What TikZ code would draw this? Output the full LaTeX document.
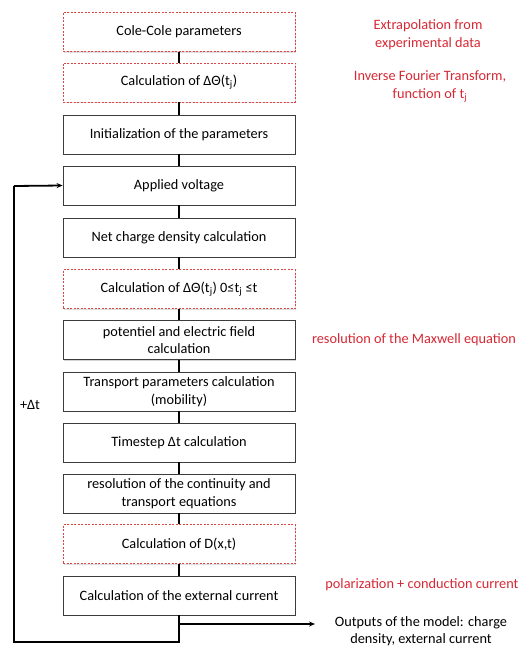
\documentclass[tikz,border=0pt]{standalone}
\usepackage{fontspec}
\setmainfont{Carlito}
\usetikzlibrary{arrows.meta,shadows}
\definecolor{annred}{RGB}{214,40,52}
\definecolor{dashred}{RGB}{220,70,70}
\definecolor{boxgray}{RGB}{60,60,60}
\tikzset{
  every node/.style={font=\fontsize{14.3}{17.5}\selectfont, align=center, inner sep=0pt},
  solidbox/.style={draw=boxgray, line width=0.8pt, fill=white, minimum width=232pt, minimum height=39pt,
    drop shadow={shadow xshift=1.2pt, shadow yshift=-1.2pt, opacity=0.35}},
  dashbox/.style={draw=dashred, line width=0.7pt, dash pattern=on 2pt off 1.5pt, fill=white, minimum width=232pt, minimum height=39pt,
    drop shadow={shadow xshift=1.2pt, shadow yshift=-1.2pt, opacity=0.25}},
  link/.style={line width=2pt, black},
  loop/.style={line width=1.8pt, black},
  note/.style={text=annred},
}
\begin{document}
\begin{tikzpicture}[x=1pt,y=-1pt]
\useasboundingbox (0,0) rectangle (527,647);
\node[dashbox]  (cole)  at (179,32)    {Cole-Cole parameters};
\node[dashbox]  (dth)   at (179,82.5)  {Calculation of ΔΘ(t\textsubscript{j})};
\node[solidbox] (init)  at (179,134.5) {Initialization of the parameters};
\node[solidbox] (volt)  at (179,185.5) {Applied voltage};
\node[solidbox] (net)   at (179,237.5) {Net charge density calculation};
\node[dashbox]  (dth2)  at (179,289)   {Calculation of ΔΘ(t\textsubscript{j}) 0≤t\textsubscript{j} ≤t};
\node[solidbox] (pot)   at (179,340)   {potentiel and electric field\\calculation};
\node[solidbox] (trans) at (179,391.5) {Transport parameters calculation\\(mobility)};
\node[solidbox] (tstep) at (179,442.5) {Timestep Δt calculation};
\node[solidbox] (cont)  at (179,493.5) {resolution of the continuity and\\transport equations};
\node[dashbox]  (dxt)   at (179,544)   {Calculation of D(x,t)};
\node[solidbox] (ext)   at (179,595.5) {Calculation of the external current};

\foreach \a/\b in {cole/dth,dth/init,init/volt,volt/net,net/dth2,dth2/pot,pot/trans,trans/tstep,tstep/cont,cont/dxt,dxt/ext}
  \draw[link] (\a.south) -- (\b.north);

\node[note] (n1) at (428,34.5) {Extrapolation from\\experimental data};
\node[note] (n2) at (430,86.5) {Inverse Fourier Transform,\\function of t\textsubscript{j}};
\node[note] (n3) at (414,340)  {resolution of the Maxwell equation};
\node[note] (n4) at (422,585)  {polarization + conduction current};
\node (dt) at (30,405) {+Δt};
\node (out) at (421,631) {Outputs of the model: charge\\density, external current};

\coordinate (bot) at (179,642);
\coordinate (bl) at (14,642);
\coordinate (tl) at (14,186);
\coordinate (jn) at (179,624);
\coordinate (tip) at (315,624);
\draw[loop] (ext.south) -- (bot) -- (bl) -- (tl);
\draw[loop,-{Stealth[length=6pt,width=5pt]}] (tl) -- (volt.west);
\draw[line width=1.5pt,-{Stealth[length=6pt,width=5pt]}] (jn) -- (tip);
\end{tikzpicture}
\end{document}
